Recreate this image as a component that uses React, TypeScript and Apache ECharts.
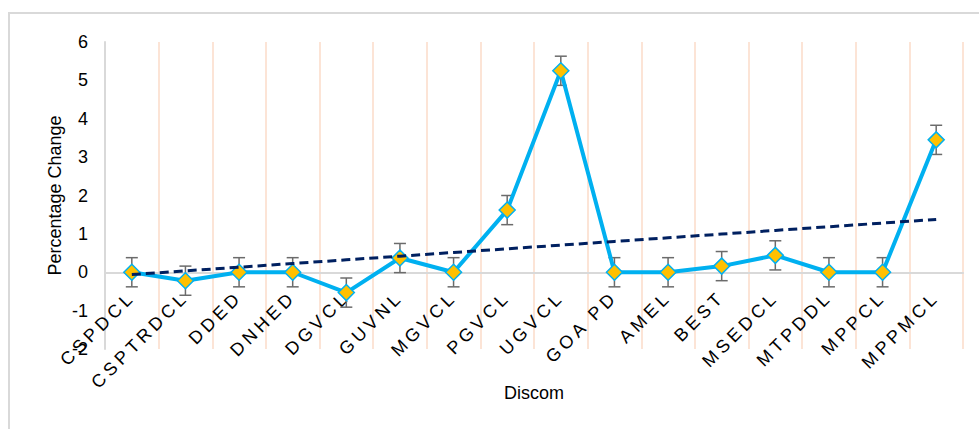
import React, { useEffect, useRef } from "react";
import * as echarts from "echarts";

const categories = [
  "CSPDCL", "CSPTRDCL", "DDED", "DNHED", "DGVCL", "GUVNL", "MGVCL", "PGVCL",
  "UGVCL", "GOA PD", "AMEL", "BEST", "MSEDCL", "MTPDDL", "MPPCL", "MPPMCL",
];
const values = [0, -0.22, 0, 0, -0.53, 0.37, 0, 1.62, 5.25, 0, 0, 0.16, 0.44, 0, 0, 3.45];
const errors = [0.38, 0.38, 0.38, 0.38, 0.38, 0.38, 0.38, 0.38, 0.38, 0.38, 0.38, 0.38, 0.38, 0.38, 0.38, 0.38];
const yTicks = { min: -2, max: 6, interval: 1 };

function linearTrend(ys: number[]): number[] {
  const n = ys.length;
  const mx = (n - 1) / 2;
  const my = ys.reduce((a, b) => a + b, 0) / n;
  let sxy = 0, sxx = 0;
  ys.forEach((y, i) => { sxy += (i - mx) * (y - my); sxx += (i - mx) * (i - mx); });
  const slope = sxy / sxx;
  const b = my - slope * mx;
  return ys.map((_, i) => +(b + slope * i).toFixed(4));
}

export default function App() {
  const ref = useRef<HTMLDivElement>(null);
  useEffect(() => {
    if (!ref.current) return;
    const el = ref.current;
    const chart = echarts.init(el, null, { renderer: "svg" });
    const trend = linearTrend(values);
    const catSet = new Set(categories);
    const applySpacing = () => {
      el.querySelectorAll("text").forEach((t) => {
        if (catSet.has((t.textContent || "").trim())) t.setAttribute("letter-spacing", "4");
      });
    };
    chart.on("rendered", applySpacing);
    chart.setOption({
      animation: false,
      textStyle: { fontFamily: "Liberation Sans, Arial, sans-serif" },
      grid: { left: 105, right: 16, top: 42, bottom: 80, containLabel: false, outerBoundsMode: "none" },
      graphic: [
        {
          type: "rect",
          shape: { x: 9, y: 13, width: 1000, height: 500 },
          style: { fill: "none", stroke: "#d9d9d9", lineWidth: 2 },
          silent: true,
        },
      ],
      xAxis: {
        type: "category",
        data: categories,
        name: "Discom",
        nameLocation: "middle",
        nameGap: 35,
        nameMoveOverlap: false,
        nameTextStyle: { fontSize: 18, color: "#000" },
        axisLine: { onZero: true, lineStyle: { color: "#d9d9d9", width: 2 } },
        axisTick: { show: false },
        splitLine: { show: true, lineStyle: { color: "#FCE4D6", width: 2 } },
        axisLabel: { rotate: 45, interval: 0, fontSize: 18, color: "#000", margin: -55, hideOverlap: false },
      },
      yAxis: {
        type: "value",
        min: yTicks.min,
        max: yTicks.max,
        interval: yTicks.interval,
        name: "Percentage Change",
        nameLocation: "middle",
        nameGap: 41,
        nameMoveOverlap: false,
        nameTextStyle: { fontSize: 18, color: "#000" },
        axisLine: { show: true, lineStyle: { color: "#d9d9d9", width: 2 } },
        axisTick: { show: false },
        splitLine: { show: false },
        axisLabel: { fontSize: 18, color: "#000", margin: 17 },
      },
      series: [
        {
          type: "custom",
          z: 1,
          data: values.map((v, i) => [i, v, errors[i]]),
          renderItem: (params: any, api: any) => {
            const x = api.value(0);
            const v = api.value(1);
            const e = api.value(2);
            const top = api.coord([x, v + e]);
            const bot = api.coord([x, v - e]);
            const hw = 6;
            const style = { stroke: "#6b6b6b", lineWidth: 1.5, fill: "none" };
            return {
              type: "group",
              children: [
                { type: "line", shape: { x1: top[0], y1: top[1], x2: bot[0], y2: bot[1] }, style },
                { type: "line", shape: { x1: top[0] - hw, y1: top[1], x2: top[0] + hw, y2: top[1] }, style },
                { type: "line", shape: { x1: bot[0] - hw, y1: bot[1], x2: bot[0] + hw, y2: bot[1] }, style },
              ],
            };
          },
        },
        {
          type: "line",
          z: 2,
          data: values,
          symbol: "diamond",
          symbolSize: 16,
          lineStyle: { color: "#00B0F0", width: 4 },
          itemStyle: { color: "#FFC000", borderColor: "#00B0F0", borderWidth: 1.5 },
        },
        {
          type: "line",
          z: 3,
          data: trend,
          symbol: "none",
          lineStyle: { color: "#002060", width: 3, type: [9, 5] },
        },
      ],
    });
    applySpacing();
    const timer = setTimeout(applySpacing, 0);
    return () => {
      clearTimeout(timer);
      chart.dispose();
    };
  }, []);
  return (
    <div
      ref={ref}
      style={{ position: "fixed", left: 0, top: 0, width: 979, height: 429, background: "#fff" }}
    />
  );
}
